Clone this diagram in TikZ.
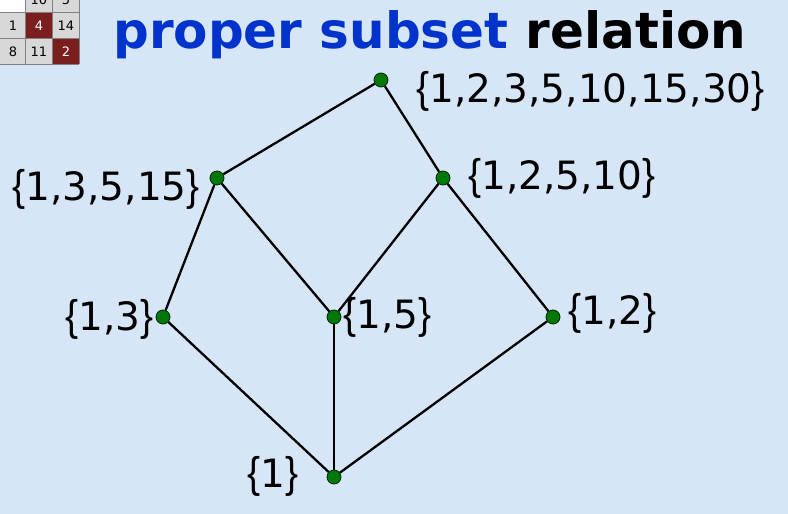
\documentclass[tikz,border=0pt]{standalone}
\usepackage{fontspec}
\usepackage{graphicx}
\setmainfont{DejaVu Sans}
\newfontfamily\titlefont{DejaVu Sans}
\newfontfamily\bracefont{Liberation Sans}
\definecolor{bgblue}{RGB}{214,230,247}
\definecolor{dotgreen}{RGB}{0,120,10}
\definecolor{titleblue}{RGB}{0,51,204}
\definecolor{cellgray}{RGB}{216,216,216}
\definecolor{cellred}{RGB}{122,30,30}
% narrow, tall braces round a set
\newcommand{\setof}[1]{\scalebox{1}[1.1]{\bracefont\{}#1\scalebox{1}[1.1]{\bracefont\}}}
\begin{document}
\begin{tikzpicture}[x=1pt, y=-1pt,
    setdot/.style={circle, fill=dotgreen, draw=black!70!dotgreen, line width=0.8pt, inner sep=0pt, minimum size=14pt},
    setlabel/.style={inner sep=0pt, font=\fontsize{39}{42}\selectfont},
    edge/.style={line width=2.3pt}]
    \useasboundingbox (0,0) rectangle (788,514);
    \fill[bgblue] (0,0) rectangle (788,514);
    % the little puzzle grid in the corner
    \begin{scope}
        \clip (0,0) rectangle (82,66);
        \begin{scope}[font=\fontsize{13}{14}\selectfont]
            \fill[cellgray] (0,-14) rectangle (79,64);
            \fill[white] (0,-14) rectangle (25,12);
            \fill[cellred] (26,13) rectangle (52,38);
            \fill[cellred] (53,39) rectangle (79,64);
            \draw[gray, line width=1pt] (0,12.5) -- (79,12.5) (0,38.5) -- (79,38.5) (25.5,-14) -- (25.5,64) (52.5,-14) -- (52.5,64) (79,-14) -- (79,64) (0,64) -- (79,64);
            \node (c12) at (39,0) {10};
            \node (c13) at (66,0) {5};
            \node (c21) at (13,25.5) {1};
            \node[white] (c22) at (39,25.5) {4};
            \node (c23) at (66,25.5) {14};
            \node (c31) at (13,51.5) {8};
            \node (c32) at (39,51.5) {11};
            \node[white] (c33) at (66,51.5) {2};
        \end{scope}
    \end{scope}
    % title
    \node[anchor=base west, inner sep=0pt, font=\titlefont\fontsize{50}{54}\selectfont\bfseries] (title) at (113,48)
        {\textcolor{titleblue}{proper subset} relation};
    % dots
    \node[setdot] (all) at (381,80) {};
    \node[setdot] (s1) at (217,178) {};
    \node[setdot] (s2) at (443,178) {};
    \node[setdot] (s3) at (163,317) {};
    \node[setdot] (s4) at (334,317) {};
    \node[setdot] (s5) at (553,317) {};
    \node[setdot] (one) at (334,477) {};
    % labels
    \node[setlabel, anchor=base west] (lall) at (416,102) {\setof{1,2,3,5,10,15,30}};
    \node[setlabel, anchor=base east] (ls1) at (200,200) {\setof{1,3,5,15}};
    \node[setlabel, anchor=base west] (ls2) at (468,189) {\setof{1,2,5,10}};
    \node[setlabel, anchor=base east] (ls3) at (154,330) {\setof{1,3}};
    \node[setlabel, anchor=base west] (ls4) at (343,328) {\setof{1,5}};
    \node[setlabel, anchor=base west] (ls5) at (568,324) {\setof{1,2}};
    \node[setlabel, anchor=base east] (lone) at (299,487) {\setof{1}};
    % edges
    \draw[edge] (all) -- (s1);
    \draw[edge] (all) -- (s2);
    \draw[edge] (s1) -- (s3);
    \draw[edge] (s1) -- (s4);
    \draw[edge] (s2) -- (s4);
    \draw[edge] (s2) -- (s5);
    \draw[edge] (s3) -- (one);
    \draw[edge] (s4) -- (one);
    \draw[edge] (s5) -- (one);
\end{tikzpicture}
\end{document}
